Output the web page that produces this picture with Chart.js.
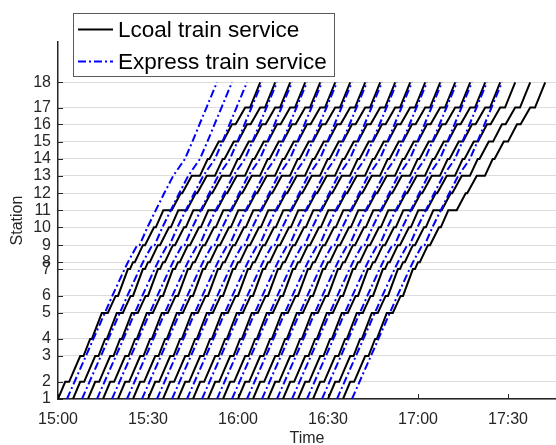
<!DOCTYPE html>
<html>
<head>
<meta charset="utf-8">
<title>Train diagram</title>
<script src="https://cdn.jsdelivr.net/npm/chart.js@4.4.1/dist/chart.umd.min.js"></script>
<style>
  html, body { margin: 0; padding: 0; background: #ffffff; }
  canvas { display: block; }
</style>
</head>
<body>
<canvas id="diagram" width="556" height="445"></canvas>
<script>
// Stations and their distance along the line (km from station 1)
const stationLabels = ['1','2','3','4','5','6','7','8','9','10','11','12','13','14','15','16','17','18'];
const stationKm = [0.00, 1.00, 2.50, 3.49, 5.00, 5.99, 7.55, 7.95, 8.94, 9.98, 10.97, 11.96, 12.97, 13.95, 14.96, 15.97, 16.94, 18.41];

// Departure times from station 1
const localDepartures = ['15:00','15:05','15:10','15:15','15:20','15:25','15:30','15:35','15:40','15:45',
                         '15:50','15:55','16:00','16:05','16:10','16:15','16:20','16:25','16:30','16:35'];
const expressDepartures = ['15:03','15:08','15:13','15:18','15:23','15:28','15:33','15:38','15:43','15:48',
                           '15:53','15:58','16:03','16:08','16:13','16:18','16:23','16:28','16:33','16:38'];

// Running profiles: minutes after leaving station 1 (arrival / departure at each station)
const localArrive   = [0, 2.4, 7.4, 10.7, 14.6, 19.2, 23.3, 25.0, 28.3, 32.0, 35.1, 40.9, 44.6, 49.9, 53.6, 58.0, 62.4, 67.4];
const localDepart   = [0, 3.7, 8.5, 11.3, 16.6, 20.0, 24.0, 25.6, 29.0, 32.6, 37.9, 41.4, 47.3, 50.5, 55.0, 59.2, 64.0, 67.4];
const expressArrive = [0, 2.5, 6.3, 8.8, 12.6, 15.1, 19.2, 20.3, 23.4, 26.8, 29.6, 32.4, 35.4, 39.3, 41.8, 44.2, 46.5, 50.0];
const expressDepart = [0, 2.5, 6.3, 8.8, 12.6, 15.1, 19.2, 20.3, 24.2, 26.8, 29.6, 32.4, 35.4, 39.3, 41.8, 44.2, 46.5, 50.0];

// Time axis
const timeTickLabels = ['15:00','15:30','16:00','16:30','17:00','17:30'];
const timeAxisStart = '15:00';
const timeAxisEnd = '17:46';

const seriesNames = { local: 'Lcoal train service', express: 'Express train service' };

// ---- helpers ----
function toMinutes(hhmm) {
  const [h, m] = hhmm.split(':').map(Number);
  return h * 60 + m;
}
const t0 = toMinutes(timeAxisStart);
function fmtTime(v) {
  const total = Math.round(v + t0);
  const h = Math.floor(total / 60), m = total % 60;
  return h + ':' + String(m).padStart(2, '0');
}
function trainPath(departure, arrive, depart) {
  const start = toMinutes(departure) - t0;
  const pts = [];
  stationKm.forEach((km, i) => {
    pts.push({ x: start + arrive[i], y: km });
    if (depart[i] !== arrive[i]) pts.push({ x: start + depart[i], y: km });
  });
  return pts;
}

const datasets = [];
expressDepartures.forEach(d => {
  datasets.push({
    label: seriesNames.express,
    kind: 'express',
    data: trainPath(d, expressArrive, expressDepart),
    borderColor: '#0000ff',
    borderWidth: 2,
    borderDash: [8, 3, 2, 3],
    pointRadius: 0,
    tension: 0,
    order: 0
  });
});
localDepartures.forEach(d => {
  datasets.push({
    label: seriesNames.local,
    kind: 'local',
    data: trainPath(d, localArrive, localDepart),
    borderColor: '#000000',
    borderWidth: 2,
    pointRadius: 0,
    tension: 0,
    order: 1
  });
});

const axisColor = '#262626';
const fontFamily = '"Liberation Sans", Arial, Helvetica, sans-serif';

// Inward tick marks and boxed legend
const framePlugin = {
  id: 'frame',
  beforeDatasetsDraw(chart) {
    const { ctx, chartArea: a, scales: { x, y } } = chart;
    ctx.save();
    ctx.strokeStyle = axisColor;
    ctx.lineWidth = 1;
    y.ticks.forEach(t => {
      const py = Math.round(y.getPixelForValue(t.value)) + 0.5;
      ctx.beginPath(); ctx.moveTo(a.left, py); ctx.lineTo(a.left + 5, py); ctx.stroke();
    });
    x.ticks.forEach(t => {
      const px = Math.round(x.getPixelForValue(t.value)) + 0.5;
      ctx.beginPath(); ctx.moveTo(px, a.bottom); ctx.lineTo(px, a.bottom - 5); ctx.stroke();
    });
    ctx.restore();
  },
  afterDraw(chart) {
    const { ctx } = chart;
    const entries = [];
    ['local', 'express'].forEach(kind => {
      const ds = chart.data.datasets.find(d => d.kind === kind);
      if (ds) entries.push(ds);
    });
    const box = { x: 73, y: 13, w: 261, h: 63 };
    ctx.save();
    ctx.fillStyle = '#ffffff';
    ctx.fillRect(box.x, box.y, box.w, box.h);
    ctx.strokeStyle = '#5a5a5a';
    ctx.lineWidth = 1;
    ctx.strokeRect(box.x + 0.5, box.y + 0.5, box.w, box.h);
    ctx.font = '22.5px ' + fontFamily;
    ctx.textBaseline = 'middle';
    ctx.textAlign = 'left';
    entries.forEach((ds, i) => {
      const cy = 29.5 + i * 32;
      ctx.strokeStyle = ds.borderColor;
      ctx.lineWidth = ds.borderWidth;
      ctx.setLineDash(ds.borderDash || []);
      ctx.beginPath(); ctx.moveTo(78, cy); ctx.lineTo(113, cy); ctx.stroke();
      ctx.setLineDash([]);
      ctx.fillStyle = '#000000';
      ctx.fillText(ds.label, 118, cy + 1);
    });
    ctx.restore();
  }
};

new Chart(document.getElementById('diagram'), {
  type: 'line',
  data: { datasets },
  plugins: [framePlugin],
  options: {
    responsive: false,
    animation: false,
    devicePixelRatio: 1,
    layout: { padding: { top: 42, right: 0, left: 0, bottom: 0 } },
    plugins: { legend: { display: false }, tooltip: { enabled: false } },
    scales: {
      x: {
        type: 'linear',
        min: 0,
        max: toMinutes(timeAxisEnd) - t0,
        afterBuildTicks: s => { s.ticks = timeTickLabels.map(l => ({ value: toMinutes(l) - t0 })); },
        afterFit: s => { s.height = 46; },
        grid: { display: false, drawTicks: false },
        border: { display: true, color: axisColor, width: 1.5 },
        ticks: {
          autoSkip: false,
          maxRotation: 0,
          padding: 11,
          color: axisColor,
          font: { family: fontFamily, size: 16 },
          callback: v => fmtTime(v)
        },
        title: {
          display: true,
          text: 'Time',
          color: axisColor,
          font: { family: fontFamily, size: 16 },
          padding: { top: -3, bottom: -3 }
        }
      },
      y: {
        type: 'linear',
        min: 0,
        max: 20.75,
        afterBuildTicks: s => { s.ticks = stationKm.map(v => ({ value: v })); },
        afterFit: s => { s.width = 58; },
        grid: { color: '#dcdcdc', lineWidth: 1, drawTicks: false },
        border: { display: true, color: axisColor, width: 1.5 },
        ticks: {
          autoSkip: false,
          padding: 7,
          color: axisColor,
          font: { family: fontFamily, size: 16 },
          callback: (v, i) => stationLabels[i]
        },
        title: {
          display: true,
          text: 'Station',
          color: axisColor,
          font: { family: fontFamily, size: 16 },
          padding: { top: 8, bottom: 8 }
        }
      }
    }
  }
});
</script>
</body>
</html>
